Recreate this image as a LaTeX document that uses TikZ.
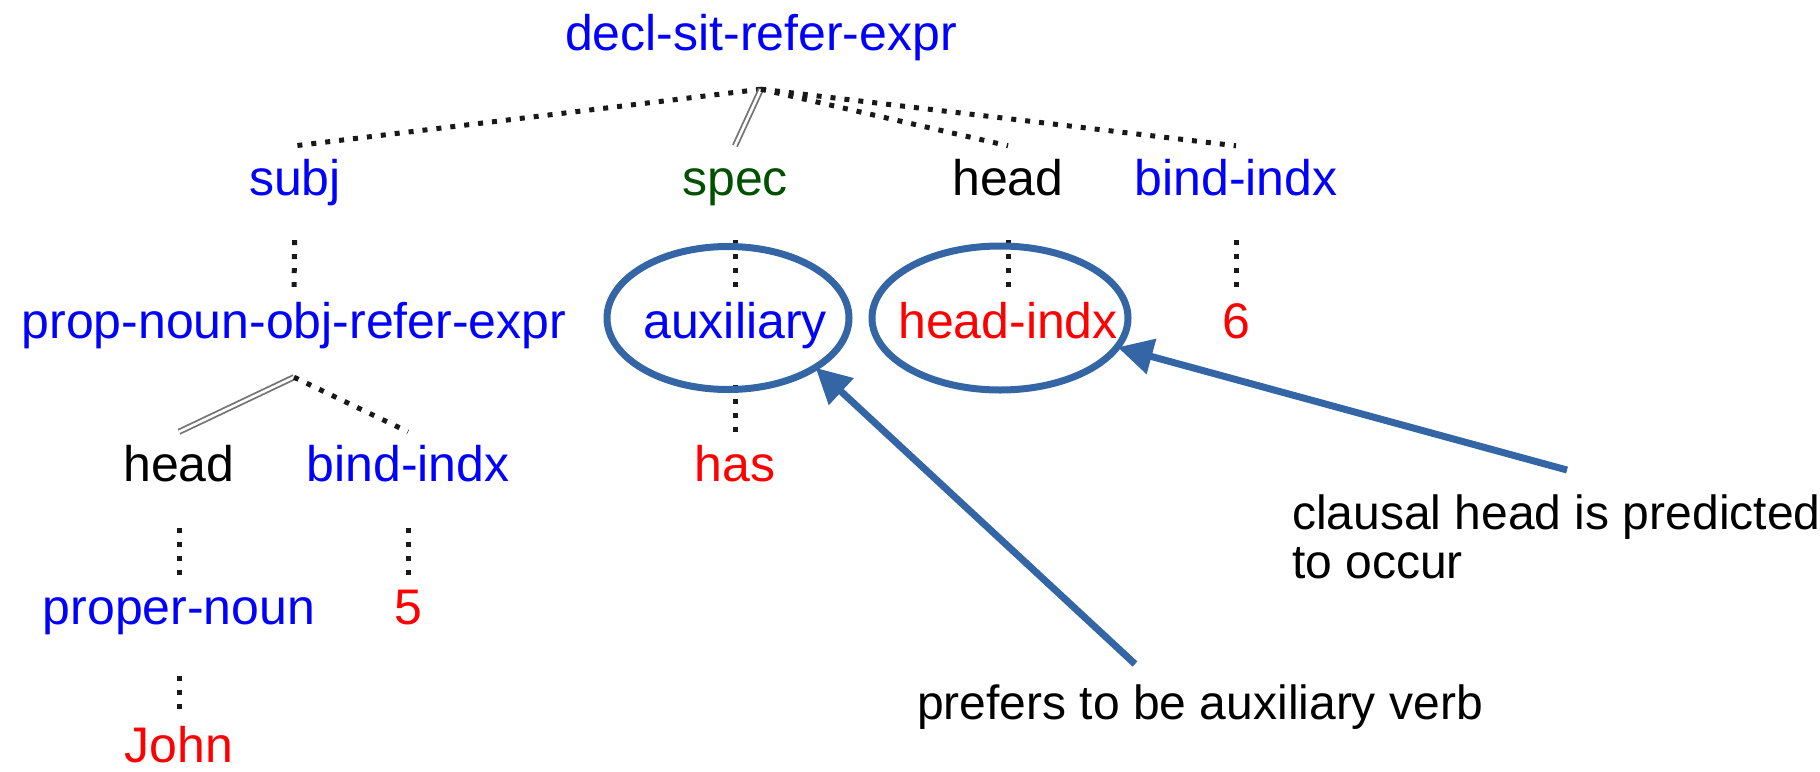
\documentclass[tikz,border=0pt]{standalone}
\usepackage{fontspec}
\setmainfont{Liberation Sans}
\usetikzlibrary{shapes.geometric,arrows.meta}
\definecolor{fsblue}{RGB}{0,0,255}
\definecolor{fsred}{RGB}{255,0,0}
\definecolor{fsgreen}{RGB}{0,80,0}
\definecolor{markblue}{HTML}{3465A4}

\begin{document}
\begin{tikzpicture}[x=1pt,y=-1pt,
  feat/.style={inner xsep=0pt, inner ysep=12pt, text height=37pt, text depth=11pt,
               anchor=base, font=\fontsize{50}{60}\selectfont},
  typ/.style={feat, text=fsblue},
  atom/.style={feat, text=fsred},
  attr/.style={feat, text=black},
  dotedge/.style={draw=black!90, line width=5pt, dash pattern=on 5pt off 9pt},
  dbledge/.style={draw=black!55, line width=1.8pt, double=white, double distance=2.6pt},
  ring/.style={draw=markblue, line width=7pt, ellipse, inner sep=0pt},
  callout/.style={draw=markblue, line width=7pt, shorten >=-3pt,
                  -{Triangle[length=35pt,width=35pt]}},
  note/.style={font=\fontsize{48}{49}\selectfont, inner sep=0pt, align=left}
]
\useasboundingbox (0,0) rectangle (1820,771);

% feature structure tree
\node[typ]  (root)  at (761,50)  {decl-sit-refer-expr};
\node[typ]  (subj)  at (295,195) {subj};
\node[feat, text=fsgreen] (spec) at (735,195) {spec};
\node[attr] (headA) at (1008,195) {head};
\node[typ]  (bindA) at (1236,195) {bind-indx};

\node[typ]  (prop)  at (294,338) {prop-noun-obj-refer-expr};
\node[typ]  (aux)   at (735,338) {auxiliary};
\node[atom] (hidx)  at (1008,338) {head-indx};
\node[atom] (six)   at (1236,338) {6};

\node[attr] (headB) at (179,481) {head};
\node[typ]  (bindB) at (408,481) {bind-indx};
\node[atom] (has)   at (735,481) {has};

\node[typ]  (pnoun) at (179,624) {proper-noun};
\node[atom] (five)  at (408,624) {5};

% last leaf sits on the bottom edge: no padding below its baseline
\node[atom, inner ysep=0pt, text height=49pt, text depth=0pt] (john) at (179,762) {John};

% branching points
\coordinate (rfork) at ([yshift=-16pt]root.south);
\coordinate (pfork) at ([yshift=-16pt]prop.south);

\draw[dotedge] (rfork) -- (subj.north);
\draw[dbledge] (rfork) -- (spec.north);
\draw[dotedge] (rfork) -- (headA.north);
\draw[dotedge] (rfork) -- (bindA.north);

\draw[dotedge, shorten <=22pt, shorten >=2pt] (subj.south) -- (prop.north);
\draw[dotedge, shorten <=22pt, shorten >=2pt] (spec.south) -- (aux.north);
\draw[dotedge, shorten <=22pt, shorten >=2pt] (headA.south) -- (hidx.north);
\draw[dotedge, shorten <=22pt, shorten >=2pt] (bindA.south) -- (six.north);

\draw[dbledge] (pfork) -- (headB.north);
\draw[dotedge] (pfork) -- (bindB.north);
\draw[dotedge, shorten <=24pt] (aux.south) -- (has.north);

\draw[dotedge, shorten <=24pt] (headB.south) -- (pnoun.north);
\draw[dotedge, shorten <=24pt] (bindB.south) -- (five.north);
\draw[dotedge, shorten <=29pt] (pnoun.south) -- (john.north);

% highlighted values
\node[ring, minimum width=242pt, minimum height=143pt] (auxring)  at (728,318) {};
\node[ring, minimum width=256pt, minimum height=144pt] (hidxring) at (1000,318) {};

% comments
\node[note, anchor=north west] (noteB) at (1292,495) {clausal head is predicted\\to occur};
\node[note, anchor=base west]  (noteA) at (917,719)  {prefers to be auxiliary verb};

\coordinate (tailA) at (1135,664);
\coordinate (tailB) at (1567,470);
\draw[callout] (tailA) -- (auxring.-30);
\draw[callout] (tailB) -- (hidxring.-14);
\end{tikzpicture}
\end{document}
